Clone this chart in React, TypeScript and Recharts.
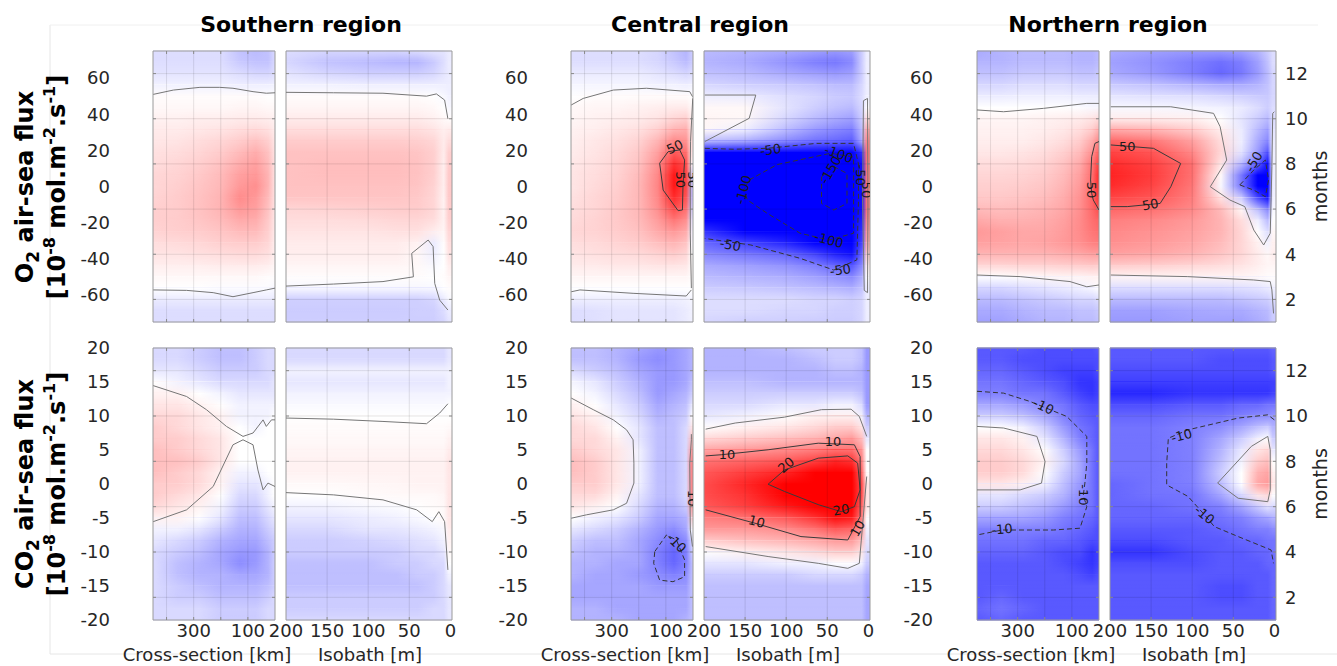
import React from "react";
import { ComposedChart, XAxis, YAxis, ReferenceArea, ReferenceLine, Line, Scatter } from "recharts";

const FONT = "'DejaVu Sans', Verdana, sans-serif";
const TXT = "#262626";

// ---- axes / grids ----
const MONTH_ROWS = [13, 12.5, 12, 11.5, 11, 10.5, 10, 9.5, 9, 8.5, 8, 7.5, 7, 6.5, 6, 5.5, 5, 4.5, 4, 3.5, 3, 2.5, 2, 1.5, 1];
const MONTH_TICKS = [2, 4, 6, 8, 10, 12];
const CS_COLS = [440, 360, 280, 200, 130, 70, 25, 3];
const ISO_COLS = [200, 150, 100, 65, 40, 20, 8, 2];
const CS_DOMAIN = [0, 450];
const ISO_DOMAIN = [-2, 200];
const CS_TICKS = [300, 100];
const CS_GRID = [400, 300, 200, 100];
const ISO_TICKS = [200, 150, 100, 50, 0];
const ISO_GRID = [150, 100, 50];
const O2_TICKS = [-60, -40, -20, 0, 20, 40, 60];
const CO2_TICKS = [-20, -15, -10, -5, 0, 5, 10, 15, 20];
const O2_MAX = 75;
const CO2_MAX = 20;

// ---- values (rows: month 13 -> 1, cols as CS_COLS / ISO_COLS) ----
const S_O2_CS = [
  [-10, -10, -10, -10, -18, -20, -18, -12],
  [-10, -10, -10, -10, -16, -18, -18, -12],
  [-8, -8, -8, -8, -10, -12, -12, -10],
  [-4, -4, -4, -4, -5, -5, -5, -4],
  [1, 1, 1, 1, 1, 1, 0, 0],
  [2, 2, 2, 2, 3, 3, 2, 2],
  [4, 4, 5, 5, 6, 6, 5, 4],
  [6, 6, 7, 8, 10, 11, 9, 6],
  [7, 8, 10, 12, 15, 18, 14, 8],
  [9, 10, 12, 15, 20, 24, 18, 9],
  [10, 12, 14, 18, 24, 28, 20, 10],
  [12, 13, 16, 20, 28, 30, 22, 10],
  [12, 14, 17, 21, 30, 33, 22, 10],
  [13, 15, 18, 22, 34, 30, 20, 10],
  [14, 15, 18, 22, 30, 28, 18, 9],
  [14, 15, 17, 20, 25, 24, 16, 8],
  [13, 14, 15, 17, 20, 20, 14, 7],
  [10, 11, 12, 14, 15, 15, 12, 6],
  [8, 8, 9, 10, 11, 11, 9, 5],
  [5, 5, 5, 6, 6, 6, 5, 3],
  [2, 2, 2, 2, 2, 2, 1, 1],
  [0, 0, 0, -1, -1, -1, -1, -2],
  [-6, -6, -6, -6, -6, -6, -6, -6],
  [-10, -10, -10, -10, -10, -10, -10, -10],
  [-10, -10, -10, -10, -10, -10, -10, -10],
];
const S_O2_ISO = [
  [-10, -12, -12, -12, -10, -8, -8, -6],
  [-12, -18, -20, -22, -22, -16, -10, -6],
  [-8, -12, -14, -14, -14, -12, -8, -6],
  [-4, -4, -5, -5, -5, -5, -5, -5],
  [1, 1, 1, 1, 1, 0, -2, -4],
  [3, 3, 3, 3, 3, 2, 0, -2],
  [6, 6, 6, 6, 6, 4, 2, 1],
  [10, 10, 10, 10, 10, 8, 5, 6],
  [15, 15, 15, 15, 14, 12, 6, 10],
  [18, 18, 18, 18, 17, 14, 6, 14],
  [18, 19, 19, 19, 18, 14, 5, 15],
  [18, 19, 19, 19, 18, 14, 5, 16],
  [18, 18, 18, 18, 17, 13, 5, 16],
  [17, 17, 17, 17, 16, 12, 4, 16],
  [12, 13, 14, 15, 15, 12, 4, 15],
  [10, 10, 11, 12, 12, 10, 4, 14],
  [8, 8, 8, 9, 9, 5, 3, 12],
  [6, 6, 6, 6, 4, -6, 1, 10],
  [5, 5, 5, 5, 2, -5, 0, 8],
  [3, 3, 3, 3, 2, -2, 0, 5],
  [1, 1, 1, 1, 1, 0, 1, 3],
  [-2, -2, -2, -2, -2, -2, 0, 1],
  [-14, -14, -14, -14, -14, -12, -6, -2],
  [-15, -15, -15, -15, -14, -14, -10, -6],
  [-14, -14, -14, -14, -14, -14, -12, -8],
];
const S_CO2_CS = [
  [-3, -3, -4, -5, -5, -4, -3, -3],
  [-3, -3, -4, -5, -5, -4, -3, -3],
  [-2, -2, -3, -4, -4, -4, -3, -3],
  [0, -1, -2, -3, -3, -3, -3, -2],
  [1, 1, 0, -1, -2, -2, -2, -2],
  [2, 2, 1, 0, -1, -1, -1, -1],
  [3, 3, 2, 1, -1, -1, -1, 0],
  [4, 3, 2, 1, 0, -1, 0, 0],
  [4, 4, 3, 2, 0, 0, 0, 0],
  [5, 4, 3, 2, 0, 0, 0, 0],
  [5, 5, 4, 2, 0, 0, 0, 0],
  [5, 4, 3, 1, -1, -1, 0, 0],
  [4, 4, 3, 1, -2, -2, -1, 0],
  [4, 3, 2, 0, -3, -3, -1, 0],
  [3, 2, 1, -1, -4, -4, -2, -1],
  [1, 1, 0, -2, -5, -5, -3, -2],
  [-1, -1, -2, -4, -6, -6, -4, -3],
  [-2, -3, -4, -6, -7, -7, -5, -4],
  [-3, -4, -5, -7, -8, -8, -6, -4],
  [-3, -5, -6, -7, -9, -8, -6, -4],
  [-3, -5, -6, -6, -7, -7, -6, -4],
  [-3, -4, -5, -6, -6, -6, -5, -4],
  [-3, -4, -4, -5, -5, -5, -4, -3],
  [-3, -3, -3, -4, -4, -4, -3, -3],
  [-3, -3, -3, -4, -4, -4, -3, -3],
];
const S_CO2_ISO = [
  [-3, -3, -3, -3, -3, -3, -3, -2],
  [-3, -3, -3, -3, -3, -3, -3, -2],
  [-1, -1, -1, -1, -1, -1, -1, -1],
  [-2, -2, -2, -2, -2, -2, -2, -1],
  [-1, -1, -1, -1, -1, -1, -1, -1],
  [-0.5, -0.5, -0.5, -0.5, -0.5, -0.5, -0.5, 0],
  [0, 0, 0, 0, 0, 0, 0, 0],
  [0.3, 0.3, 0.3, 0.3, 0.3, 0.3, 0.3, 0.5],
  [0.5, 0.5, 0.5, 0.5, 0.5, 0.5, 0.5, 1],
  [0.8, 0.8, 0.8, 0.8, 0.8, 0.8, 0.8, 1.5],
  [1, 1, 1, 1, 1, 1, 1, 2],
  [1, 1, 1, 1, 1, 1, 1, 2],
  [0.5, 0.5, 0.7, 0.8, 1, 1, 1, 2],
  [0, 0, 0.3, 0.5, 0.5, 0.5, 0.8, 2],
  [-1, -1, -0.5, -0.3, 0, 0.3, 0.5, 2],
  [-2, -2, -1.5, -1, -0.5, 0, 0.5, 2],
  [-3, -3, -2, -2, -1.5, -1, -0.5, 1.5],
  [-4, -4, -3.5, -3, -2.5, -2, -1, 1],
  [-4, -4, -4, -4, -3, -3, -2, 0.5],
  [-5, -5, -5, -4, -4, -3, -3, 0],
  [-5, -5, -5, -5, -4, -4, -3, -1],
  [-5, -5, -5, -5, -5, -4, -3, -2],
  [-4, -4, -4, -4, -4, -4, -3, -2],
  [-4, -4, -4, -4, -4, -3, -3, -2],
  [-3, -3, -3, -3, -3, -3, -3, -2],
];
const C_O2_CS = [
  [-10, -10, -10, -10, -12, -18, -22, -15],
  [-10, -10, -10, -10, -12, -16, -20, -15],
  [-6, -6, -6, -6, -8, -10, -12, -10],
  [-3, -3, -3, -3, -4, -4, -5, -4],
  [0, 1, 1, 1, 1, 1, 1, 0],
  [2, 3, 3, 4, 5, 6, 6, 2],
  [3, 4, 5, 6, 8, 12, 14, 4],
  [4, 5, 7, 9, 14, 22, 24, 6],
  [5, 7, 9, 13, 22, 35, 32, 8],
  [6, 8, 11, 16, 28, 48, 42, 6],
  [7, 9, 12, 18, 32, 60, 52, 0],
  [8, 10, 13, 20, 35, 68, 55, -15],
  [8, 11, 14, 21, 36, 68, 55, -20],
  [9, 12, 15, 21, 35, 62, 50, -20],
  [10, 12, 16, 21, 33, 52, 42, -15],
  [11, 13, 16, 20, 29, 40, 33, -8],
  [12, 13, 15, 18, 25, 30, 25, -4],
  [10, 11, 13, 15, 19, 22, 18, -2],
  [8, 9, 10, 11, 13, 15, 12, 0],
  [6, 6, 7, 7, 8, 8, 7, 1],
  [3, 3, 3, 3, 3, 3, 3, 1],
  [0, 0, 0, 0, 0, 0, 0, 0],
  [-5, -5, -5, -5, -5, -5, -4, -3],
  [-10, -9, -8, -8, -8, -8, -6, -4],
  [-10, -9, -8, -8, -8, -8, -6, -4],
];
const C_O2_ISO = [
  [-20, -22, -25, -28, -30, -28, -15, -5],
  [-22, -25, -32, -38, -40, -35, -15, -5],
  [-18, -20, -25, -28, -30, -28, -15, -5],
  [-12, -14, -16, -18, -20, -20, -12, -5],
  [-5, -6, -10, -12, -15, -16, -10, -5],
  [2, 2, -8, -14, -18, -20, -12, 0],
  [3, 2, -12, -20, -25, -28, -15, 10],
  [2, -5, -20, -30, -35, -38, -20, 25],
  [-20, -25, -35, -42, -45, -48, -25, 35],
  [-110, -110, -115, -120, -120, -120, -60, 40],
  [-110, -115, -120, -140, -150, -140, -70, 40],
  [-110, -120, -130, -150, -160, -150, -70, 40],
  [-100, -120, -135, -155, -165, -155, -70, 40],
  [-95, -115, -130, -150, -160, -150, -70, 40],
  [-85, -110, -125, -140, -150, -140, -70, 40],
  [-75, -95, -110, -125, -130, -125, -65, 35],
  [-60, -75, -90, -105, -110, -110, -60, 30],
  [-45, -55, -65, -80, -90, -95, -55, 25],
  [-35, -40, -45, -55, -65, -70, -45, 15],
  [-25, -28, -32, -38, -45, -50, -35, 5],
  [-20, -22, -24, -28, -32, -35, -25, 0],
  [-15, -16, -18, -20, -22, -24, -18, -5],
  [-10, -10, -10, -12, -12, -14, -12, -5],
  [-10, -10, -12, -12, -14, -14, -12, -5],
  [-12, -14, -14, -15, -15, -15, -12, -5],
];
const C_CO2_CS = [
  [-5, -5, -6, -7, -8, -8, -7, -6],
  [-5, -5, -6, -8, -9, -8, -7, -6],
  [-3, -4, -5, -7, -8, -8, -7, -6],
  [-1, -2, -4, -6, -8, -8, -7, -5],
  [0, -1, -3, -5, -8, -7, -6, -4],
  [1, 0, -2, -4, -7, -6, -5, -2],
  [2, 1, -1, -3, -6, -5, -4, 0],
  [3, 2, 0, -2, -5, -5, -3, 2],
  [3, 3, 1, -2, -5, -5, -3, 5],
  [4, 3, 2, -1, -5, -5, -3, 8],
  [5, 4, 2, -1, -5, -5, -3, 10],
  [5, 4, 2, -1, -5, -5, -3, 10],
  [4, 4, 2, -1, -5, -5, -3, 10],
  [3, 3, 1, -2, -5, -5, -3, 10],
  [2, 1, 0, -3, -6, -6, -4, 8],
  [0, -1, -2, -4, -7, -7, -6, 4],
  [-2, -3, -4, -6, -8, -9, -7, 0],
  [-4, -5, -5, -7, -9, -11, -9, -3],
  [-5, -6, -6, -7, -10, -12, -10, -4],
  [-6, -6, -7, -7, -10, -12, -10, -5],
  [-6, -7, -7, -8, -9, -10, -9, -5],
  [-7, -7, -7, -7, -8, -8, -8, -5],
  [-7, -7, -7, -7, -7, -7, -7, -5],
  [-6, -6, -7, -7, -7, -7, -7, -5],
  [-6, -6, -6, -7, -7, -7, -6, -5],
];
const C_CO2_ISO = [
  [-6, -6, -5, -4, -4, -4, -5, -8],
  [-6, -6, -6, -5, -4, -4, -5, -8],
  [-6, -6, -6, -6, -5, -5, -6, -8],
  [-5, -5, -6, -6, -6, -6, -6, -8],
  [-4, -4, -4, -4, -4, -4, -5, -8],
  [-3, -3, -2, -2, -1, -1, -3, -8],
  [-2, -1, 0, 1, 1, 1, -1, -6],
  [0, 1, 2, 3, 4, 4, 2, -4],
  [3, 4, 5, 6, 7, 8, 5, -2],
  [7, 8, 9, 10, 11, 11, 8, 0],
  [11, 12, 13, 15, 17, 16, 10, 0],
  [13, 15, 17, 21, 24, 22, 12, 0],
  [14, 17, 21, 25, 28, 26, 14, 2],
  [14, 16, 20, 24, 28, 26, 14, 2],
  [13, 15, 18, 22, 25, 24, 12, 2],
  [10, 11, 13, 16, 19, 18, 10, 0],
  [8, 8, 9, 11, 13, 12, 8, -1],
  [4, 5, 6, 7, 8, 8, 5, -2],
  [0, 1, 2, 3, 4, 4, 2, -3],
  [-2, -2, -1, -1, 0, 0, -1, -4],
  [-4, -4, -4, -3, -3, -3, -4, -6],
  [-5, -5, -5, -5, -5, -5, -5, -7],
  [-5, -5, -5, -5, -5, -5, -5, -7],
  [-5, -5, -5, -5, -5, -5, -5, -7],
  [-5, -5, -5, -5, -5, -5, -5, -7],
];
const N_O2_CS = [
  [-25, -22, -20, -20, -20, -22, -22, -20],
  [-22, -22, -20, -20, -20, -22, -22, -20],
  [-18, -18, -16, -16, -16, -18, -18, -16],
  [-12, -12, -10, -10, -10, -12, -12, -12],
  [-6, -6, -5, -5, -5, -6, -6, -6],
  [0, 0, 0, 0, 0, -1, -2, -2],
  [3, 3, 3, 4, 5, 6, 8, 10],
  [4, 4, 4, 5, 7, 10, 15, 22],
  [5, 5, 5, 7, 10, 15, 25, 35],
  [7, 7, 8, 10, 14, 20, 32, 45],
  [10, 10, 11, 13, 18, 25, 40, 55],
  [12, 12, 13, 15, 20, 28, 42, 60],
  [14, 14, 15, 17, 22, 30, 44, 60],
  [16, 16, 17, 19, 24, 32, 45, 58],
  [20, 19, 20, 22, 26, 33, 44, 52],
  [25, 23, 23, 24, 28, 34, 42, 45],
  [30, 28, 26, 26, 29, 34, 40, 42],
  [28, 27, 26, 27, 30, 33, 37, 38],
  [22, 22, 22, 22, 24, 26, 28, 28],
  [12, 12, 13, 13, 14, 15, 16, 15],
  [0, 0, 1, 2, 3, 3, 4, 4],
  [-12, -12, -10, -8, -6, -4, -2, 0],
  [-20, -20, -18, -16, -14, -12, -12, -10],
  [-25, -25, -22, -20, -20, -18, -18, -16],
  [-28, -28, -25, -22, -22, -20, -20, -18],
];
const N_O2_ISO = [
  [-25, -28, -30, -30, -28, -22, -15, -10],
  [-28, -32, -38, -42, -38, -28, -18, -10],
  [-25, -30, -38, -45, -40, -30, -20, -12],
  [-16, -18, -22, -25, -25, -22, -18, -12],
  [-8, -9, -10, -12, -14, -16, -16, -12],
  [-2, -2, -3, -4, -6, -10, -14, -10],
  [5, 5, 4, 0, -8, -15, -20, -10],
  [25, 22, 15, 5, -6, -20, -28, -8],
  [45, 40, 28, 10, -5, -25, -35, -6],
  [55, 50, 35, 12, -8, -30, -50, -5],
  [62, 56, 42, 8, -20, -45, -70, -5],
  [65, 58, 42, 2, -40, -75, -95, -5],
  [62, 55, 40, -2, -40, -85, -100, -5],
  [55, 50, 38, 8, -15, -55, -70, -4],
  [45, 42, 35, 20, 2, -20, -35, -2],
  [38, 35, 30, 22, 10, -5, -20, 0],
  [35, 32, 28, 22, 12, 0, -10, 2],
  [33, 30, 26, 20, 12, 4, -4, 4],
  [28, 26, 22, 17, 12, 6, 2, 5],
  [15, 14, 12, 10, 8, 5, 3, 3],
  [3, 3, 3, 3, 3, 2, 1, 1],
  [-10, -10, -10, -10, -9, -8, -6, -4],
  [-20, -20, -20, -20, -18, -16, -14, -10],
  [-28, -28, -26, -25, -25, -22, -20, -15],
  [-30, -30, -28, -28, -28, -25, -22, -15],
];
const N_CO2_CS = [
  [-13, -13, -13, -14, -14, -14, -14, -13],
  [-13, -13, -14, -14, -14, -14, -14, -14],
  [-12, -12, -13, -14, -15, -15, -15, -14],
  [-11, -11, -12, -13, -14, -16, -16, -15],
  [-10, -10, -11, -11, -13, -15, -16, -15],
  [-7, -7, -8, -10, -11, -13, -14, -14],
  [-4, -4, -5, -7, -10, -12, -13, -13],
  [0, 0, -1, -4, -8, -11, -12, -13],
  [2, 2, 1, -2, -6, -10, -12, -13],
  [3, 3, 2, 0, -4, -8, -11, -13],
  [4, 4, 3, 1, -3, -7, -11, -13],
  [4, 4, 3, 0, -4, -7, -11, -13],
  [2, 2, 1, -1, -5, -8, -11, -13],
  [-2, -2, -3, -4, -6, -9, -11, -13],
  [-4, -4, -5, -6, -8, -10, -11, -13],
  [-7, -7, -7, -8, -10, -11, -12, -13],
  [-10, -10, -10, -10, -11, -12, -13, -14],
  [-11, -11, -11, -12, -12, -13, -14, -14],
  [-12, -12, -12, -13, -14, -14, -16, -15],
  [-13, -13, -13, -13, -14, -15, -16, -15],
  [-13, -13, -13, -13, -13, -14, -15, -14],
  [-13, -13, -13, -13, -13, -13, -13, -13],
  [-13, -12, -13, -13, -13, -13, -13, -13],
  [-12, -11, -12, -13, -13, -13, -13, -13],
  [-13, -12, -13, -13, -13, -13, -13, -13],
];
const N_CO2_ISO = [
  [-13, -13, -13, -13, -13, -13, -13, -12],
  [-13, -13, -13, -14, -14, -14, -14, -13],
  [-14, -14, -14, -14, -14, -14, -14, -13],
  [-15, -15, -15, -15, -15, -15, -15, -15],
  [-17, -17, -16, -16, -16, -16, -16, -15],
  [-14, -14, -13, -13, -12, -12, -11, -11],
  [-12, -12, -11, -11, -10, -9, -9, -8],
  [-11, -11, -10, -9, -7, -5, -4, -6],
  [-11, -11, -10, -7, -4, -1, 0, -4],
  [-11, -11, -10, -6, -2, 2, 3, -2],
  [-11, -11, -10, -5, -1, 4, 5, 0],
  [-11, -11, -10, -4, 0, 6, 7, 1],
  [-12, -11, -10, -5, 0, 7, 8, 2],
  [-12, -11, -11, -7, -3, 2, 3, 0],
  [-12, -12, -11, -10, -7, -4, -2, -3],
  [-12, -12, -12, -11, -10, -8, -7, -6],
  [-13, -13, -13, -12, -11, -10, -10, -9],
  [-14, -14, -13, -13, -12, -12, -11, -11],
  [-16, -16, -14, -13, -13, -12, -12, -11],
  [-14, -14, -14, -13, -13, -13, -12, -12],
  [-13, -13, -13, -13, -13, -13, -13, -12],
  [-13, -13, -13, -14, -14, -13, -13, -12],
  [-13, -13, -13, -14, -14, -13, -13, -12],
  [-13, -13, -13, -13, -13, -13, -13, -12],
  [-13, -13, -13, -13, -13, -13, -13, -12],
];

// ---- contour lines [x, month] and their levels ----
type Contour = { level: number; pts: number[][] };
type CLabel = { x: number; y: number; t: string; r: number };

const S_O2_CS_LINES: Contour[] = [
  { level: 0, pts: [[449, 11.08], [375, 11.27], [277, 11.39], [204, 11.39], [155, 11.35], [81, 11.2], [32, 11.13], [0, 11.15]] },
  { level: 0, pts: [[449, 2.42], [326, 2.4], [228, 2.3], [155, 2.12], [81, 2.3], [32, 2.42], [0, 2.5]] },
];
const S_O2_ISO_LINES: Contour[] = [
  { level: 0, pts: [[200, 11.17], [142, 11.15], [82, 11.13], [29, 11.0], [17, 11.1], [7, 10.83], [3, 10.0]] },
  { level: 0, pts: [[200, 2.59], [142, 2.68], [82, 2.79], [45, 3.0], [47, 4.04], [27, 4.63], [21, 4.34], [19, 2.71], [13, 1.97], [3, 1.53]] },
];
const S_CO2_CS_LINES: Contour[] = [
  { level: 0, pts: [[449, 11.34], [326, 10.86], [253, 10.28], [179, 9.54], [118, 9.1], [81, 9.25], [44, 9.83], [32, 9.54], [13, 9.83], [0, 9.83]] },
  { level: 0, pts: [[449, 5.34], [326, 5.86], [228, 6.89], [155, 8.73], [118, 8.95], [81, 8.73], [63, 7.62], [44, 6.74], [26, 7.04], [0, 6.89]] },
];
const S_CO2_ISO_LINES: Contour[] = [
  { level: 0, pts: [[200, 9.91], [142, 9.86], [82, 9.76], [29, 9.66], [13, 10.13], [3, 10.54]] },
  { level: 0, pts: [[200, 6.62], [142, 6.52], [82, 6.3], [41, 5.86], [22, 5.34], [14, 5.78], [7, 5.34], [3, 3.21]] },
];
const C_O2_CS_LINES: Contour[] = [
  { level: 0, pts: [[449, 10.61], [405, 10.9], [294, 11.27], [172, 11.35], [12, 11.2], [2, 10.98]] },
  { level: 0, pts: [[449, 2.34], [417, 2.42], [221, 2.27], [25, 2.15], [6, 2.42]] },
  { level: 0, pts: [[1, 10.9], [9, 9.0], [10, 7.9], [10, 4.9], [6, 2.5]] },
  { level: 50, pts: [[123, 8.03], [92, 8.54], [49, 8.62], [31, 8.17], [37, 7.0], [39, 5.96], [55, 5.93], [110, 6.84], [123, 8.03]] },
];
const C_O2_CS_LABELS: CLabel[] = [
  { x: 67, y: 8.75, t: "50", r: -25 },
  { x: 45, y: 7.3, t: "50", r: 90 },
  { x: 3, y: 7.3, t: "50", r: 90 },
];
const C_O2_ISO_LINES: Contour[] = [
  { level: 0, pts: [[199, 11.05], [137, 11.05], [145, 10.02], [199, 8.99]] },
  { level: -50, pts: [[199, 8.69], [164, 8.65], [123, 8.69], [63, 8.91], [18, 8.91], [12, 8.0], [12, 6.4], [14, 3.75], [42, 3.3], [83, 3.82], [143, 4.41], [199, 4.7]] },
  { level: -100, pts: [[145, 7.29], [111, 7.97], [46, 8.47], [18, 8.3], [18, 4.93], [48, 4.63], [83, 4.93], [123, 5.81], [147, 6.4], [152, 6.84], [145, 7.29]] },
  { level: -150, pts: [[57, 7.43], [42, 7.88], [26, 7.58], [26, 6.25], [42, 5.96], [57, 6.25], [57, 7.43]] },
  { level: 0, pts: [[6, 10.8], [7, 6.4], [5, 2.4], [1, 2.3], [0.5, 6], [1, 10.9], [6, 10.8]] },
];
const C_O2_ISO_LABELS: CLabel[] = [
  { x: 119, y: 8.62, t: "-50", r: -8 },
  { x: 168, y: 4.41, t: "-50", r: 12 },
  { x: 34, y: 3.3, t: "-50", r: -8 },
  { x: 152, y: 6.85, t: "-100", r: -75 },
  { x: 36, y: 8.44, t: "-100", r: 20 },
  { x: 48, y: 4.63, t: "-100", r: 15 },
  { x: 46, y: 7.73, t: "-150", r: -60 },
  { x: 10, y: 7.5, t: "-50", r: 90 },
  { x: 2, y: 6.85, t: "50", r: 90 },
];
const C_CO2_CS_LINES: Contour[] = [
  { level: 0, pts: [[449, 10.79], [368, 10.28], [294, 9.83], [245, 9.39], [221, 8.95], [218, 7.92], [218, 7.04], [245, 6.15], [294, 5.86], [393, 5.64], [449, 5.49]] },
  { level: 0, pts: [[6, 9.2], [6, 8.95], [12, 7.92], [10, 4.97], [2, 4.24]] },
  { level: -10, pts: [[141, 4.02], [98, 4.75], [61, 4.53], [31, 3.65], [31, 2.91], [74, 2.69], [123, 2.76], [145, 3.5], [141, 4.02]] },
];
const C_CO2_CS_LABELS: CLabel[] = [
  { x: 61, y: 4.4, t: "-10", r: 45 },
  { x: 2, y: 6.37, t: "10", r: 90 },
];
const C_CO2_ISO_LINES: Contour[] = [
  { level: 0, pts: [[198, 9.42], [162, 9.69], [102, 9.95], [57, 10.28], [21, 10.3], [11, 9.98], [2, 9.1]] },
  { level: 10, pts: [[198, 8.24], [179, 8.29], [122, 8.51], [61, 8.8], [17, 8.73], [10, 8.21], [10, 5.56], [25, 4.53], [82, 4.68], [138, 5.27], [198, 5.86]] },
  { level: 20, pts: [[122, 6.99], [102, 7.62], [61, 8.14], [25, 8.24], [13, 7.92], [10, 6.74], [17, 6.0], [33, 5.78], [61, 6.09], [102, 6.67], [122, 6.99]] },
  { level: 0, pts: [[198, 4.24], [122, 3.8], [61, 3.5], [25, 3.28], [11, 3.5], [2, 7.33]] },
];
const C_CO2_ISO_LABELS: CLabel[] = [
  { x: 172, y: 8.29, t: "10", r: 0 },
  { x: 43, y: 8.88, t: "10", r: 0 },
  { x: 13, y: 5.04, t: "10", r: -60 },
  { x: 136, y: 5.34, t: "10", r: 15 },
  { x: 100, y: 7.84, t: "20", r: -40 },
  { x: 33, y: 5.86, t: "20", r: -10 },
];
const N_O2_CS_LINES: Contour[] = [
  { level: 0, pts: [[450, 10.39], [352, 10.31], [205, 10.46], [45, 10.68], [0, 10.68]] },
  { level: 0, pts: [[450, 3.08], [291, 3.01], [107, 2.79], [45, 2.56], [0, 2.64]] },
  { level: 50, pts: [[0, 8.99], [15, 8.91], [27, 8.32], [31, 7.29], [27, 6.7], [21, 6.4], [0, 5.96]] },
];
const N_O2_CS_LABELS: CLabel[] = [{ x: 27, y: 6.84, t: "50", r: 90 }];
const N_O2_ISO_LINES: Contour[] = [
  { level: 0, pts: [[199, 10.53], [126, 10.53], [74, 10.24], [66, 9.65], [58, 8.17], [78, 6.99], [54, 6.4], [36, 6.11], [25, 5.07], [13, 4.41], [5, 4.93], [3, 7.88], [2, 10.24], [0, 10.31]] },
  { level: 0, pts: [[199, 3.08], [106, 3.01], [25, 2.86], [5, 2.79], [3, 2.42], [1, 1.38]] },
  { level: 50, pts: [[199, 8.84], [147, 8.69], [114, 8.02], [126, 6.99], [139, 6.25], [179, 6.11], [199, 6.11]] },
  { level: -50, pts: [[42, 7.07], [25, 7.73], [11, 8.17], [7, 7.29], [11, 6.55], [25, 6.84], [42, 7.07]] },
];
const N_O2_ISO_LABELS: CLabel[] = [
  { x: 179, y: 8.76, t: "50", r: 0 },
  { x: 151, y: 6.2, t: "50", r: -10 },
  { x: 25, y: 8.1, t: "-50", r: -60 },
];
const N_CO2_CS_LINES: Contour[] = [
  { level: -10, pts: [[450, 11.09], [352, 11.01], [254, 10.64], [205, 10.4], [119, 9.98], [45, 9.1], [45, 7.92], [52, 7.04], [58, 6.5], [45, 6.0], [70, 5.05], [168, 4.97], [254, 4.97], [358, 4.97], [450, 4.75]] },
  { level: 0, pts: [[450, 9.54], [352, 9.47], [229, 9.1], [199, 7.99], [212, 7.04], [291, 6.74], [450, 6.74]] },
];
const N_CO2_CS_LABELS: CLabel[] = [
  { x: 205, y: 10.42, t: "-10", r: 25 },
  { x: 58, y: 6.52, t: "-10", r: 90 },
  { x: 358, y: 5.0, t: "-10", r: -5 },
];
const N_CO2_ISO_LINES: Contour[] = [
  { level: -10, pts: [[0, 9.83], [8, 10.05], [44, 9.91], [105, 9.39], [129, 9.02], [131, 7.92], [131, 6.96], [105, 6.45], [85, 5.64], [73, 5.12], [44, 4.68], [4, 4.09], [1, 3.5]] },
  { level: 0, pts: [[8, 9.1], [28, 8.66], [69, 7.04], [44, 6.37], [8, 6.22], [5, 6.74], [5, 8.51], [8, 9.1]] },
];
const N_CO2_ISO_LABELS: CLabel[] = [
  { x: 113, y: 9.13, t: "-10", r: -15 },
  { x: 85, y: 5.64, t: "-10", r: 40 },
];

// ---- layout ----
const GROUPS = [
  { title: "Southern region", titleX: 301, cb: 118, p1: 153, p2: 286 },
  { title: "Central region", titleX: 700, cb: 536, p1: 571, p2: 704 },
  { title: "Northern region", titleX: 1108, cb: 941, p1: 977, p2: 1110 },
];
const ROWS = [
  { top: 51, h: 271, vmax: O2_MAX, ticks: O2_TICKS, gas: "O" },
  { top: 348, h: 272, vmax: CO2_MAX, ticks: CO2_TICKS, gas: "CO" },
];
const P1_W = 122;
const P2_W = 166;

type PanelDef = {
  id: string; g: number; r: number; kind: "cs" | "iso";
  values: number[][]; lines: Contour[]; labels: CLabel[];
};
const PANELS: PanelDef[] = [
  { id: "so2cs", g: 0, r: 0, kind: "cs", values: S_O2_CS, lines: S_O2_CS_LINES, labels: [] },
  { id: "so2iso", g: 0, r: 0, kind: "iso", values: S_O2_ISO, lines: S_O2_ISO_LINES, labels: [] },
  { id: "sco2cs", g: 0, r: 1, kind: "cs", values: S_CO2_CS, lines: S_CO2_CS_LINES, labels: [] },
  { id: "sco2iso", g: 0, r: 1, kind: "iso", values: S_CO2_ISO, lines: S_CO2_ISO_LINES, labels: [] },
  { id: "co2cs", g: 1, r: 0, kind: "cs", values: C_O2_CS, lines: C_O2_CS_LINES, labels: C_O2_CS_LABELS },
  { id: "co2iso", g: 1, r: 0, kind: "iso", values: C_O2_ISO, lines: C_O2_ISO_LINES, labels: C_O2_ISO_LABELS },
  { id: "cco2cs", g: 1, r: 1, kind: "cs", values: C_CO2_CS, lines: C_CO2_CS_LINES, labels: C_CO2_CS_LABELS },
  { id: "cco2iso", g: 1, r: 1, kind: "iso", values: C_CO2_ISO, lines: C_CO2_ISO_LINES, labels: C_CO2_ISO_LABELS },
  { id: "no2cs", g: 2, r: 0, kind: "cs", values: N_O2_CS, lines: N_O2_CS_LINES, labels: N_O2_CS_LABELS },
  { id: "no2iso", g: 2, r: 0, kind: "iso", values: N_O2_ISO, lines: N_O2_ISO_LINES, labels: N_O2_ISO_LABELS },
  { id: "nco2cs", g: 2, r: 1, kind: "cs", values: N_CO2_CS, lines: N_CO2_CS_LINES, labels: N_CO2_CS_LABELS },
  { id: "nco2iso", g: 2, r: 1, kind: "iso", values: N_CO2_ISO, lines: N_CO2_ISO_LINES, labels: N_CO2_ISO_LABELS },
];

function fluxColor(v: number, vmax: number): string {
  const t = Math.max(-1, Math.min(1, v / vmax));
  if (t >= 0) {
    const g = Math.round(255 * (1 - t));
    return `rgb(255,${g},${g})`;
  }
  const g = Math.round(255 * (1 + t));
  return `rgb(${g},${g},255)`;
}

function kindInfo(kind: "cs" | "iso") {
  return kind === "cs"
    ? { cols: CS_COLS, domain: CS_DOMAIN, ticks: CS_TICKS, grid: CS_GRID, w: P1_W }
    : { cols: ISO_COLS, domain: ISO_DOMAIN, ticks: ISO_TICKS, grid: ISO_GRID, w: P2_W };
}

function Gradients() {
  return (
    <svg width={0} height={0} style={{ position: "absolute", left: 0, top: 0 }}>
      <defs>
        {PANELS.map((p) => {
          const k = kindInfo(p.kind);
          const vmax = ROWS[p.r].vmax;
          const [d0, d1] = k.domain;
          return MONTH_ROWS.map((m, i) => (
            <linearGradient key={`${p.id}-${i}`} id={`${p.id}-r${i}`} x1="0" y1="0" x2="1" y2="0">
              {k.cols.map((c, j) => (
                <stop key={j} offset={(d1 - c) / (d1 - d0)} stopColor={fluxColor(p.values[i][j], vmax)} />
              ))}
            </linearGradient>
          ));
        })}
        <linearGradient id="cbar" x1="0" y1="0" x2="0" y2="1">
          <stop offset="0" stopColor="rgb(255,0,0)" />
          <stop offset="0.5" stopColor="rgb(255,255,255)" />
          <stop offset="1" stopColor="rgb(0,0,255)" />
        </linearGradient>
        <linearGradient id="vfadeGrad" x1="0" y1="0" x2="0" y2="1">
          <stop offset="0" stopColor="#ffffff" />
          <stop offset="1" stopColor="#000000" />
        </linearGradient>
        <mask id="vfade" maskUnits="objectBoundingBox" maskContentUnits="objectBoundingBox" x="0" y="0" width="1" height="1">
          <rect x="0" y="0" width="1" height="1" fill="url(#vfadeGrad)" />
        </mask>
      </defs>
    </svg>
  );
}

function lineStyle(level: number) {
  if (level === 0) return { stroke: "#767676", dash: undefined as string | undefined, w: 1 };
  if (level > 0) return { stroke: "#3a3a3a", dash: undefined as string | undefined, w: 1 };
  return { stroke: "#333333", dash: "5 3", w: 1 };
}

// band between two month rows: lower-row colours blended vertically into upper-row colours
function bandShape(lowerId: string, upperId: string) {
  return (sp: any) => (
    <g>
      <rect x={sp.x} y={sp.y - 0.5} width={sp.width} height={sp.height + 1} fill={`url(#${lowerId})`} />
      <rect x={sp.x} y={sp.y - 0.5} width={sp.width} height={sp.height + 1} fill={`url(#${upperId})`} mask="url(#vfade)" />
    </g>
  );
}

function Panel({ p }: { p: PanelDef }) {
  const k = kindInfo(p.kind);
  const row = ROWS[p.r];
  const grp = GROUPS[p.g];
  const left = p.kind === "cs" ? grp.p1 : grp.p2;
  const showX = p.r === 1;
  const showMonths = p.g === 2 && p.kind === "iso";
  const ml = 25, mt = 6, mb = 4;
  const mr = showMonths ? 0 : 25;
  const yW = showMonths ? 45 : 0;
  const xH = showX ? 30 : 0;
  const W = k.w + ml + mr + yW;
  const H = row.h + mt + mb + xH;
  const [d0, d1] = k.domain;
  const tickStyle = { fontSize: 18, fill: TXT, fontFamily: FONT };
  const bands = MONTH_ROWS.slice(0, -1);
  // inward tick mark lengths (~3 px) expressed in axis units
  const tyLen = (3 / row.h) * 12;
  const txLen = (3 / k.w) * (d1 - d0);
  const tickColor = "#8a8a8a";
  return (
    <div style={{ position: "absolute", left: left - ml, top: row.top - mt }}>
      <ComposedChart width={W} height={H} margin={{ top: mt, right: mr, bottom: mb, left: ml }} data={[]}>
        <XAxis
          type="number" dataKey="x" domain={k.domain} reversed allowDataOverflow
          ticks={k.ticks} interval={0} hide={!showX} height={xH}
          tickSize={0} tickMargin={4} axisLine={false} tickLine={false} tick={tickStyle}
        />
        <YAxis
          type="number" dataKey="y" domain={[1, 13]} allowDataOverflow orientation="right"
          ticks={MONTH_TICKS} interval={0} hide={!showMonths} width={yW}
          tickSize={0} tickMargin={9} axisLine={false} tickLine={false} tick={tickStyle}
        />
        {bands.map((m, i) => (
          <ReferenceArea
            key={`b${i}`} x1={d0} x2={d1}
            y1={MONTH_ROWS[i + 1]} y2={m}
            ifOverflow="visible"
            shape={bandShape(`${p.id}-r${i + 1}`, `${p.id}-r${i}`)}
          />
        ))}
        {k.grid.map((x) => (
          <ReferenceLine key={`gx${x}`} x={x} stroke="#000" strokeOpacity={0.1} strokeWidth={1} />
        ))}
        {MONTH_TICKS.map((y) => (
          <ReferenceLine key={`gy${y}`} y={y} stroke="#000" strokeOpacity={0.1} strokeWidth={1} />
        ))}
        {k.grid.map((x) => (
          <ReferenceLine key={`tb${x}`} segment={[{ x, y: 1 }, { x, y: 1 + tyLen }]} stroke={tickColor} strokeWidth={1} ifOverflow="visible" />
        ))}
        {k.grid.map((x) => (
          <ReferenceLine key={`tt${x}`} segment={[{ x, y: 13 }, { x, y: 13 - tyLen }]} stroke={tickColor} strokeWidth={1} ifOverflow="visible" />
        ))}
        {MONTH_TICKS.map((y) => (
          <ReferenceLine key={`tl${y}`} segment={[{ x: d1, y }, { x: d1 - txLen, y }]} stroke={tickColor} strokeWidth={1} ifOverflow="visible" />
        ))}
        {MONTH_TICKS.map((y) => (
          <ReferenceLine key={`tr${y}`} segment={[{ x: d0, y }, { x: d0 + txLen, y }]} stroke={tickColor} strokeWidth={1} ifOverflow="visible" />
        ))}
        {p.lines.map((c, i) => {
          const st = lineStyle(c.level);
          return (
            <Line
              key={`c${i}`} data={c.pts.map(([x, y]) => ({ x, y }))} dataKey="y" type="linear"
              stroke={st.stroke} strokeWidth={st.w} strokeDasharray={st.dash}
              dot={false} activeDot={false} isAnimationActive={false} legendType="none"
            />
          );
        })}
        {p.labels.length > 0 && (
          <Scatter
            data={p.labels} isAnimationActive={false}
            shape={(sp: any) => (
              <text
                x={sp.cx} y={sp.cy} transform={`rotate(${sp.payload.r} ${sp.cx} ${sp.cy})`}
                textAnchor="middle" dominantBaseline="central"
                fontSize={13} fontFamily={FONT} fill="#1a1a1a"
              >
                {sp.payload.t}
              </text>
            )}
          />
        )}
        <ReferenceArea
          x1={d0} x2={d1} y1={1} y2={13} fill="none" fillOpacity={0}
          stroke="#9a9a9a" strokeWidth={1} ifOverflow="visible"
        />
      </ComposedChart>
    </div>
  );
}

function ColorBar({ g, r }: { g: number; r: number }) {
  const row = ROWS[r];
  const x = GROUPS[g].cb;
  return (
    <div style={{ position: "absolute", left: x - 60, top: row.top - 12 }}>
      <ComposedChart width={65} height={row.h + 24} margin={{ top: 12, right: 0, bottom: 12, left: 0 }} data={[]}>
        <XAxis type="number" dataKey="x" domain={[0, 1]} hide />
        <YAxis
          type="number" dataKey="y" domain={[-row.vmax, row.vmax]} allowDataOverflow
          ticks={row.ticks} interval={0} width={60} tickSize={0} tickMargin={8}
          axisLine={false} tickLine={false} tick={{ fontSize: 18, fill: TXT, fontFamily: FONT }}
        />
        <ReferenceArea
          x1={0} x2={1} y1={-row.vmax} y2={row.vmax}
          fill="url(#cbar)" fillOpacity={1} stroke="none" ifOverflow="visible"
        />
      </ComposedChart>
    </div>
  );
}

function YLabel({ gas, cy }: { gas: string; cy: number }) {
  return (
    <g>
      <text transform={`translate(33 ${cy}) rotate(-90)`} textAnchor="middle" fontFamily={FONT} fontWeight="bold" fontSize={24} fill="#000">
        {gas}
        <tspan fontSize={17} dy={6}>2</tspan>
        <tspan dy={-6}> air-sea flux</tspan>
      </text>
      <text transform={`translate(65 ${cy}) rotate(-90)`} textAnchor="middle" fontFamily={FONT} fontWeight="bold" fontSize={24} fill="#000">
        [10
        <tspan fontSize={16} dy={-10}>-8</tspan>
        <tspan dy={10}> mol.m</tspan>
        <tspan fontSize={16} dy={-10}>-2</tspan>
        <tspan dy={10}>.s</tspan>
        <tspan fontSize={16} dy={-10}>-1</tspan>
        <tspan dy={10}>]</tspan>
      </text>
    </g>
  );
}

function Overlay() {
  return (
    <svg width={1337} height={666} style={{ position: "absolute", left: 0, top: 0 }}>
      <line x1={50} y1={25} x2={50} y2={654} stroke="#e6e6e6" strokeWidth={1} />
      <line x1={50} y1={654} x2={1337} y2={654} stroke="#e6e6e6" strokeWidth={1} />
      <line x1={50} y1={25} x2={1318} y2={25} stroke="#f0f0f0" strokeWidth={1} />
      {GROUPS.map((g) => (
        <text key={g.title} x={g.titleX} y={32} textAnchor="middle" fontFamily={FONT} fontWeight="bold" fontSize={22} fill="#000">
          {g.title}
        </text>
      ))}
      <YLabel gas="O" cy={187} />
      <YLabel gas="CO" cy={484} />
      {GROUPS.map((g) => (
        <g key={`xl${g.title}`}>
          <text x={g.p1 + P1_W / 2 - 7} y={661} textAnchor="middle" fontFamily={FONT} fontSize={18} fill={TXT}>
            Cross-section [km]
          </text>
          <text x={g.p2 + P2_W / 2 + 1} y={661} textAnchor="middle" fontFamily={FONT} fontSize={18} fill={TXT}>
            Isobath [m]
          </text>
        </g>
      ))}
      {ROWS.map((r) => (
        <text key={`mo${r.top}`} transform={`translate(1327 ${r.top + r.h / 2}) rotate(-90)`} textAnchor="middle" fontFamily={FONT} fontSize={19} fill={TXT}>
          months
        </text>
      ))}
    </svg>
  );
}

export default function App() {
  return (
    <div style={{ position: "absolute", left: 0, top: 0, width: 1337, height: 666, background: "#fff", overflow: "hidden" }}>
      <Gradients />
      <Overlay />
      {GROUPS.map((g, gi) => ROWS.map((r, ri) => <ColorBar key={`cb${gi}${ri}`} g={gi} r={ri} />))}
      {PANELS.map((p) => (
        <Panel key={p.id} p={p} />
      ))}
    </div>
  );
}
